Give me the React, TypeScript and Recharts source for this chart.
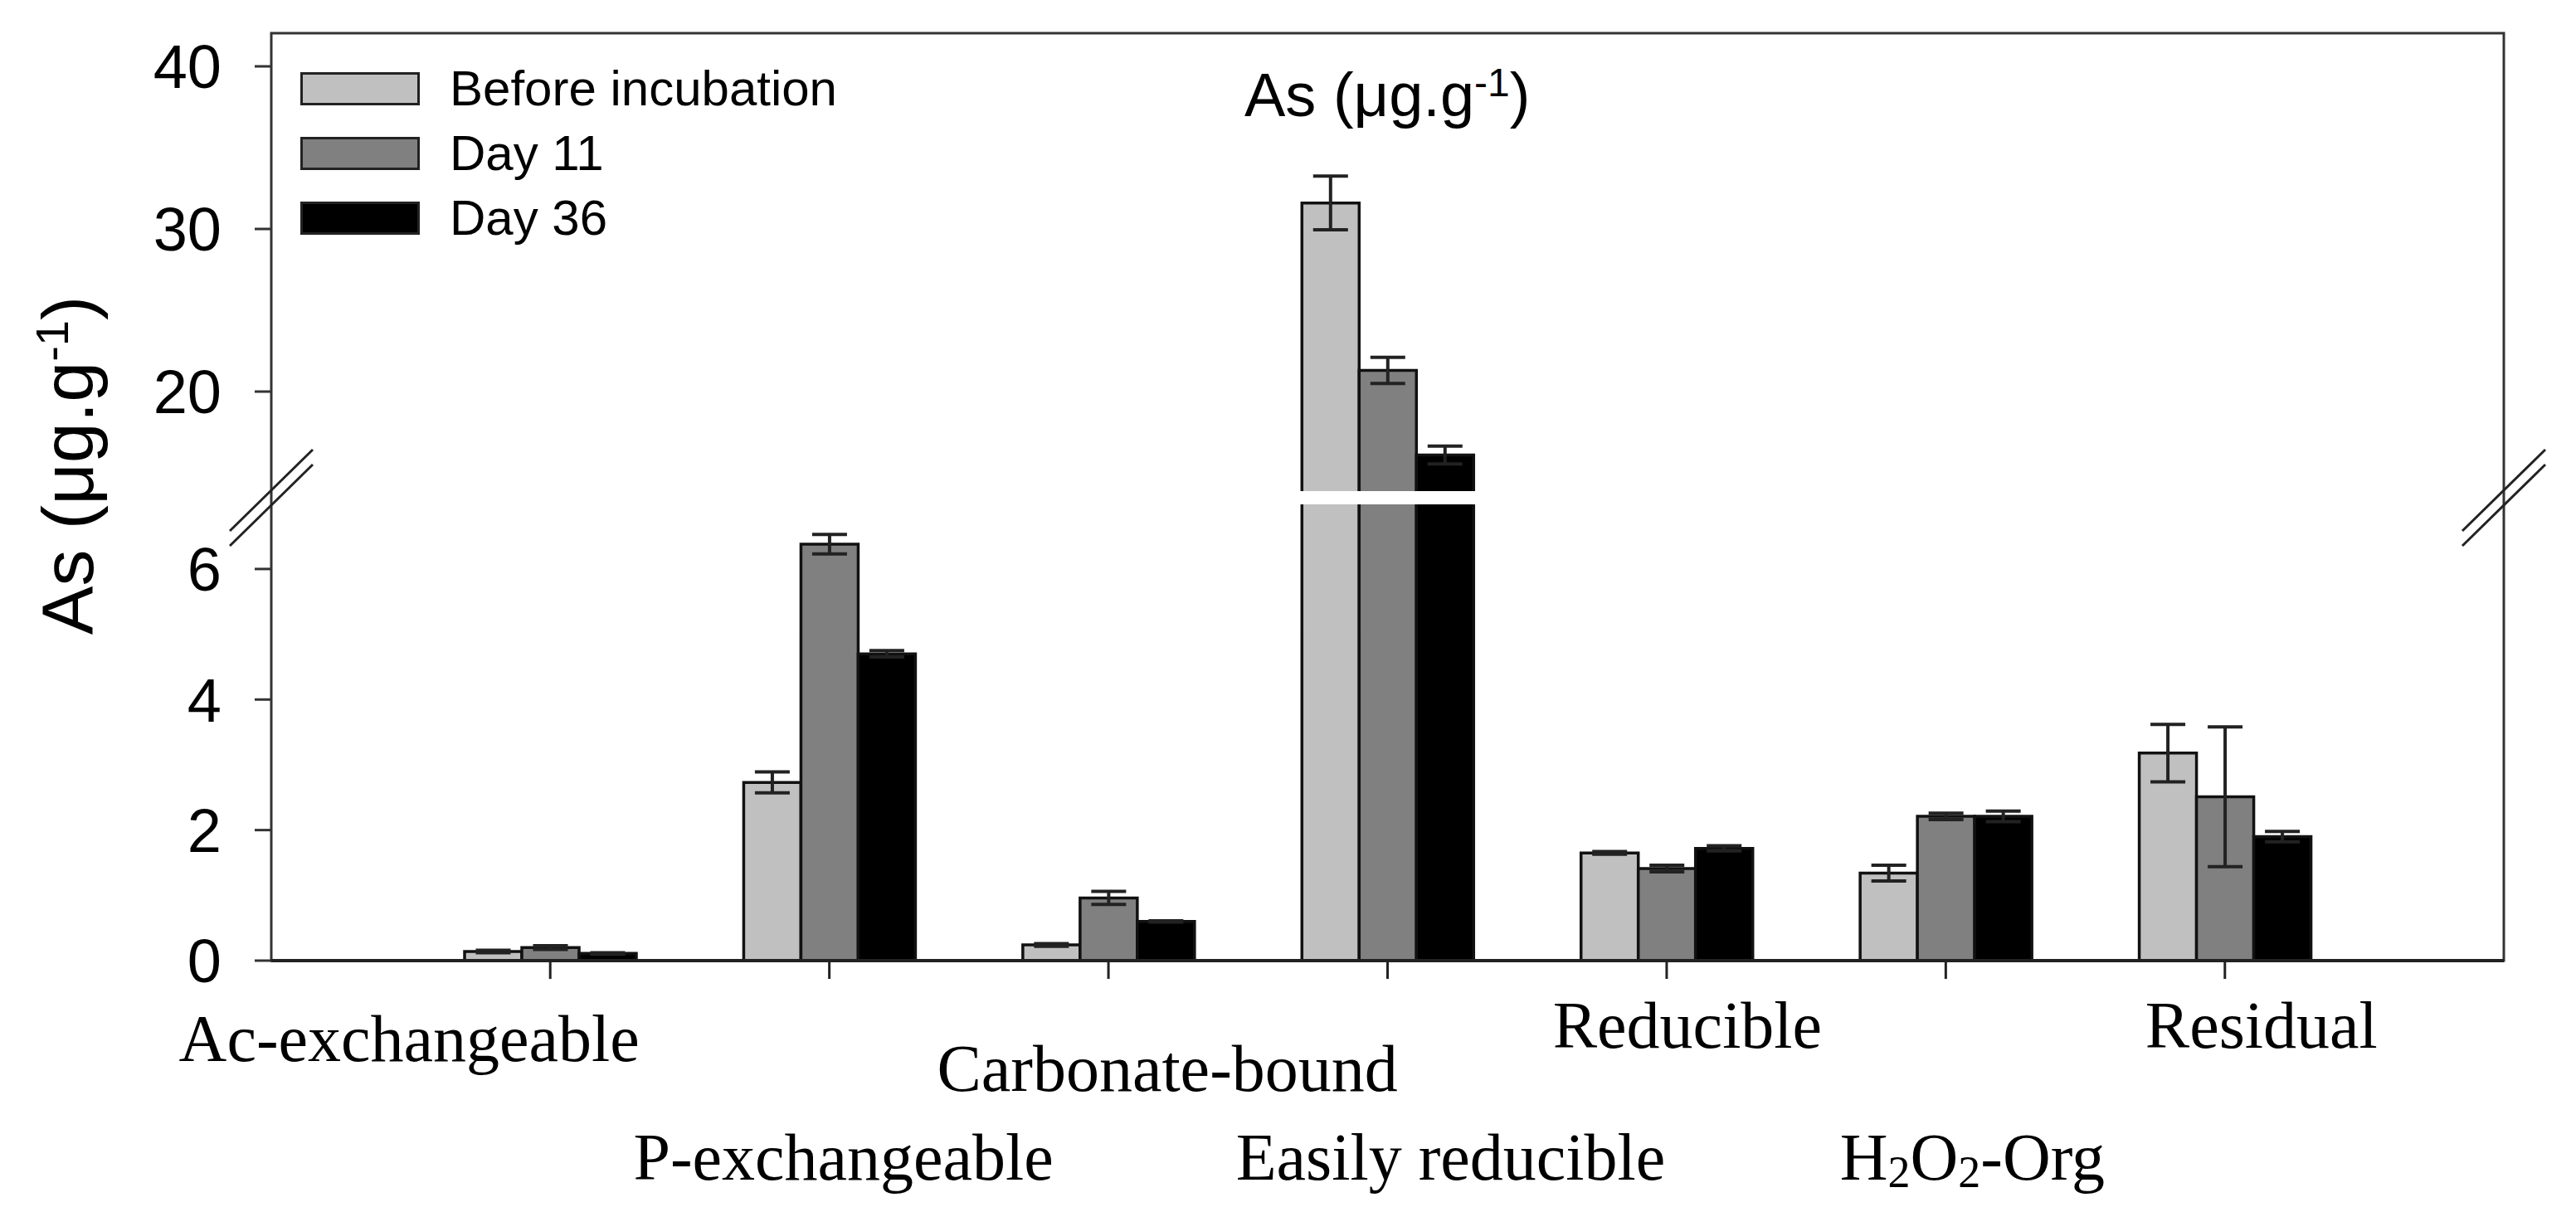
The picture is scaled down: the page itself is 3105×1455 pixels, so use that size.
import React from 'react';
import { BarChart, Bar, XAxis, YAxis, ErrorBar, Legend, Customized } from 'recharts';

// ---------- data ----------
const categories = ['Ac-exchangeable', 'P-exchangeable', 'Carbonate-bound', 'Easily reducible', 'Reducible', 'H2O2-Org', 'Residual'];
const seriesNames = ['Before incubation', 'Day 11', 'Day 36'];
const beforeValues = [0.14, 2.73, 0.24, 31.6, 1.65, 1.34, 3.18];
const day11Values = [0.2, 6.38, 0.96, 21.3, 1.41, 2.21, 2.51];
const day36Values = [0.11, 4.7, 0.6, 16.1, 1.72, 2.21, 1.9];
const beforeErrors = [0.02, 0.16, 0.02, 1.65, 0.02, 0.12, 0.44];
const day11Errors = [0.03, 0.15, 0.1, 0.8, 0.05, 0.05, 1.07];
const day36Errors = [0.01, 0.05, 0.01, 0.55, 0.04, 0.08, 0.08];
const upperTicks = [20, 30, 40];
const lowerTicks = [0, 2, 4, 6];
const upperDomain: [number, number] = [13.88, 42.04];
const lowerDomain: [number, number] = [0, 6.99];

// ---------- styles / layout ----------
const SANS = "'Liberation Sans', Arial, Helvetica, sans-serif";
const SERIF = "'Liberation Serif', 'Times New Roman', Times, serif";
const seriesKeys = ['before', 'day11', 'day36'];
const seriesFills = ['#c0c0c0', '#808080', '#000000'];

const CHART_W = 3097;
const Y_AXIS_W = 319;
const MARGIN_R = 87;
const PLOT_LEFT = Y_AXIS_W;
const PLOT_RIGHT = CHART_W - MARGIN_R;
const UPPER_TOP = 32;
const UPPER_H = 600;
const UPPER_BOTTOM_M = 16;
const LOWER_H = 1447;
const LOWER_TOP = 600;
const X_AXIS_H = 297;
const FRAME_BOTTOM = LOWER_H - X_AXIS_H;
const X_PAD = 168;
const BAR_SIZE = 69;

const labelLayout: Record<string, { dx: number; dy: number }> = {
  'Ac-exchangeable': { dx: -170, dy: 99 },
  'P-exchangeable': { dx: 17, dy: 242 },
  'Carbonate-bound': { dx: 71, dy: 135 },
  'Easily reducible': { dx: 76, dy: 242 },
  'Reducible': { dx: 25, dy: 83 },
  'H2O2-Org': { dx: 32, dy: 242 },
  'Residual': { dx: 44, dy: 83 },
};

// ---------- derived tables ----------
const fullData = categories.map((name, i) => ({
  name,
  before: beforeValues[i],
  day11: day11Values[i],
  day36: day36Values[i],
  beforeErr: beforeErrors[i],
  day11Err: day11Errors[i],
  day36Err: day36Errors[i],
}));

const lowerData = fullData.map((d: any) => {
  const o: any = { ...d };
  seriesKeys.forEach((k) => {
    if (d[k] > lowerDomain[1]) o[k + 'Err'] = null;
  });
  return o;
});

const upperData = fullData.map((d: any) => {
  const o: any = { ...d };
  seriesKeys.forEach((k) => {
    if (d[k] < upperDomain[0]) {
      o[k] = null;
      o[k + 'Err'] = null;
    }
  });
  return o;
});

// ---------- components ----------
const makeShape = (openBottom: boolean) => (props: any) => {
  const { x, y, width, height, fill } = props;
  const v = Array.isArray(props.value) ? props.value[1] : props.value;
  if (v == null || Number.isNaN(v) || !(height > 0) || !(width > 0)) return null;
  const d = openBottom
    ? `M${x},${y + height}L${x},${y}L${x + width},${y}L${x + width},${y + height}`
    : `M${x},${y}h${width}v${height}h${-width}Z`;
  return (
    <g>
      <rect x={x} y={y} width={width} height={height} fill={fill} />
      <path d={d} fill="none" stroke="#111" strokeWidth={3.5} />
    </g>
  );
};
const lowerShape = makeShape(false);
const upperShape = makeShape(true);

const XTick = (props: any) => {
  const { x, y, payload } = props;
  const name: string = payload.value;
  const lay = labelLayout[name] || { dx: 0, dy: 100 };
  const common = {
    x: x + lay.dx,
    y: y + lay.dy,
    textAnchor: 'middle' as const,
    fontFamily: SERIF,
    fontSize: 80,
    fill: '#000',
  };
  if (name === 'H2O2-Org') {
    return (
      <text {...common}>
        H<tspan fontSize={54} dy={9}>2</tspan>
        <tspan dy={-9}>O</tspan>
        <tspan fontSize={54} dy={9}>2</tspan>
        <tspan dy={-9}>-Org</tspan>
      </text>
    );
  }
  return <text {...common}>{name}</text>;
};

const FrameAndBreaks = () => {
  const split = (UPPER_H - UPPER_BOTTOM_M + LOWER_TOP) / 2;
  const mk = (cx: number) => (
    <g key={cx} stroke="#222" strokeWidth={3}>
      <line x1={cx - 50} y1={split - 9 + 49} x2={cx + 50} y2={split - 9 - 49} />
      <line x1={cx - 50} y1={split + 9 + 49} x2={cx + 50} y2={split + 9 - 49} />
    </g>
  );
  return (
    <g>
      <rect
        x={PLOT_LEFT}
        y={UPPER_TOP}
        width={PLOT_RIGHT - PLOT_LEFT}
        height={FRAME_BOTTOM - UPPER_TOP}
        fill="none"
        stroke="#333"
        strokeWidth={3}
      />
      {mk(PLOT_LEFT)}
      {mk(PLOT_RIGHT)}
    </g>
  );
};

const YTitle = () => (
  <text
    transform={`translate(104, 553) rotate(-90)`}
    textAnchor="middle"
    fontFamily={SANS}
    fontSize={88}
    fill="#000"
  >
    As (μg.g<tspan fontSize={56} dy={-30}>-1</tspan>
    <tspan dy={30}>)</tspan>
  </text>
);

const Title = () => (
  <text x={1492} y={132} fontFamily={SANS} fontSize={74} fill="#000">
    As (μg.g<tspan fontSize={48} dy={-24}>-1</tspan>
    <tspan dy={24}>)</tspan>
  </text>
);

const renderLegend = () => (
  <div style={{ display: 'flex', flexDirection: 'column' }}>
    {seriesNames.map((n, i) => (
      <div key={n} style={{ display: 'flex', alignItems: 'center', height: 78 }}>
        <div
          style={{
            width: 144,
            height: 40,
            boxSizing: 'border-box',
            background: seriesFills[i],
            border: '3px solid #222',
          }}
        />
        <span style={{ marginLeft: 36, fontSize: 60, fontFamily: SANS, color: '#000', lineHeight: '78px', whiteSpace: 'nowrap' }}>
          {n}
        </span>
      </div>
    ))}
  </div>
);

const yTick = { fontSize: 74, fill: '#000', fontFamily: SANS };

export default function App() {
  return (
    <div style={{ position: 'relative', width: CHART_W, height: LOWER_H, background: '#fff' }}>
      <div style={{ position: 'absolute', left: 0, top: 0 }}>
        <BarChart
          width={CHART_W}
          height={LOWER_H}
          data={lowerData}
          margin={{ top: LOWER_TOP, right: MARGIN_R, bottom: 0, left: 0 }}
          barGap={0}
          barSize={BAR_SIZE}
        >
          <Customized component={<FrameAndBreaks />} />
          <Customized component={<YTitle />} />
          <XAxis
            dataKey="name"
            height={X_AXIS_H}
            padding={{ left: X_PAD, right: X_PAD }}
            axisLine={{ stroke: '#222', strokeWidth: 4 }}
            tickLine={{ stroke: '#222', strokeWidth: 3 }}
            tickSize={22}
            tickMargin={0}
            interval={0}
            tick={<XTick />}
          />
          <YAxis
            width={Y_AXIS_W}
            domain={lowerDomain}
            allowDataOverflow
            ticks={lowerTicks}
            axisLine={false}
            tickLine={{ stroke: '#333', strokeWidth: 3 }}
            tickSize={20}
            tickMargin={40}
            tick={yTick}
          />
          {seriesKeys.map((k, i) => (
            <Bar
              key={k}
              dataKey={k}
              name={seriesNames[i]}
              fill={seriesFills[i]}
              shape={lowerShape}
              isAnimationActive={false}
            >
              <ErrorBar dataKey={k + 'Err'} width={21} strokeWidth={4} stroke="#222" direction="y" />
            </Bar>
          ))}
        </BarChart>
      </div>
      <div style={{ position: 'absolute', left: 0, top: 0 }}>
        <BarChart
          width={CHART_W}
          height={UPPER_H}
          data={upperData}
          margin={{ top: UPPER_TOP, right: MARGIN_R, bottom: UPPER_BOTTOM_M, left: 0 }}
          barGap={0}
          barSize={BAR_SIZE}
        >
          <Customized component={<Title />} />
          <XAxis dataKey="name" hide padding={{ left: X_PAD, right: X_PAD }} />
          <YAxis
            width={Y_AXIS_W}
            domain={upperDomain}
            allowDataOverflow
            ticks={upperTicks}
            axisLine={false}
            tickLine={{ stroke: '#333', strokeWidth: 3 }}
            tickSize={20}
            tickMargin={40}
            tick={yTick}
          />
          <Legend
            layout="vertical"
            align="center"
            verticalAlign="middle"
            content={renderLegend}
            wrapperStyle={{ left: 354, top: 60, width: 'auto' }}
          />
          {seriesKeys.map((k, i) => (
            <Bar
              key={k}
              dataKey={k}
              name={seriesNames[i]}
              fill={seriesFills[i]}
              shape={upperShape}
              isAnimationActive={false}
            >
              <ErrorBar dataKey={k + 'Err'} width={21} strokeWidth={4} stroke="#222" direction="y" />
            </Bar>
          ))}
        </BarChart>
      </div>
    </div>
  );
}
